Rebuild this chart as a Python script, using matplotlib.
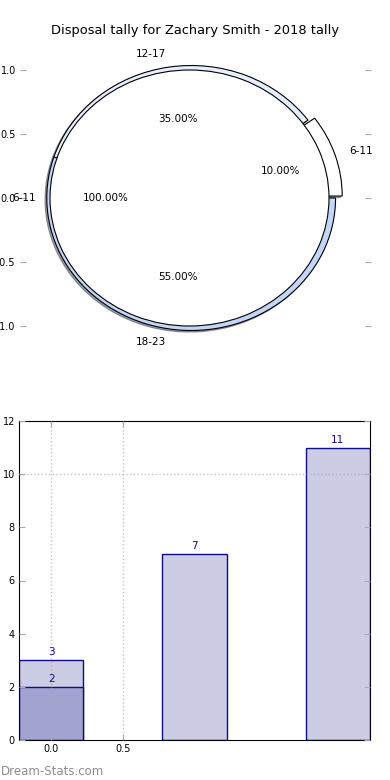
import matplotlib
matplotlib.use("Agg")
import matplotlib.pyplot as plt
from matplotlib.ticker import FixedLocator

title = "Disposal tally for Zachary Smith - 2018 tally"

# inner pie (single slice)
inner_labels = ["6-11"]
inner_values = [20]

# outer ring
ring_labels = ["6-11", "12-17", "18-23"]
ring_values = [2, 7, 11]
ring_colors = ["#ffffff", "#e6eeff", "#c3d6f7"]
ring_explode = [0.05, 0, 0]

# bars
bar_pos = [0, 1, 2]
bar_values = [3, 7, 11]
front_pos = [0]
front_values = [2]

fig = plt.figure(figsize=(3.9, 7.8), dpi=100)

# ---- pie ----
ax1 = fig.add_axes([20 / 390, 1 - 358 / 780, 351 / 390, 320 / 780])
wp = dict(edgecolor="black", linewidth=0.8)
shadow = dict(ox=-0.009, oy=-0.009)
ax1.pie(ring_values, labels=ring_labels, colors=ring_colors, explode=ring_explode,
        radius=1.035, center=(0.012, 0), autopct="%1.2f%%", shadow=shadow,
        startangle=0, wedgeprops=wp, textprops=dict(fontsize=7.5))
ax1.pie(inner_values, labels=inner_labels, colors=["white"], radius=1.0,
        autopct="%1.2f%%", shadow=shadow, startangle=0,
        wedgeprops=wp, textprops=dict(fontsize=7.5))
ax1.set_aspect("auto")
ax1.set_frame_on(True)
for s in ax1.spines.values():
    s.set_visible(False)
ax1.set_xlim(-1.215, 1.301)
ax1.set_ylim(-1.25, 1.25)
ax1.set_xticks([])
ax1.set_yticks([-1.0, -0.5, 0.0, 0.5, 1.0])
ax1.tick_params(axis="y", direction="in", length=4, color="#aaaaaa",
                labelsize=7, pad=3, right=True)
ax1.set_title(title, fontsize=9.4, pad=3)

# ---- bars ----
ax2 = fig.add_axes([19 / 390, 40 / 780, 351 / 390, 319 / 780])
light = ax2.bar(bar_pos, bar_values, width=0.45, color="#ccccE4",
                edgecolor="#0c0c8c", linewidth=1)
dark = ax2.bar(front_pos, front_values, width=0.45, color="#a3a3d1",
               edgecolor="#0c0c8c", linewidth=1)
ax2.bar_label(light, padding=2, color="#0c0c8c", fontsize=7.5)
ax2.bar_label(dark, padding=2, color="#0c0c8c", fontsize=7.5)
ax2.set_xlim(-0.225, 2.225)
ax2.set_ylim(0, 12)
ax2.set_xticks([0, 0.5])
ax2.set_yticks(range(0, 13, 2))
ax2.set_axisbelow(False)
ax2.yaxis.remove_overlapping_locs = False
ax2.yaxis.set_minor_locator(FixedLocator([10]))
ax2.grid(axis="x", linestyle=":", color="#aaaaaa", linewidth=1, alpha=0.7)
ax2.grid(axis="y", which="minor", linestyle=":", color="#aaaaaa", linewidth=1, alpha=0.7)
ax2.tick_params(axis="both", which="major", direction="in", length=4, color="#aaaaaa",
                labelsize=7, pad=3, right=True, top=True)
ax2.tick_params(axis="y", which="minor", length=0)
for s in ax2.spines.values():
    s.set_color("black")

fig.text(0.002, 0.007, "Dream-Stats.com", color="#8c8c8c", fontsize=8.5)

fig.savefig("out.png", dpi=100)
